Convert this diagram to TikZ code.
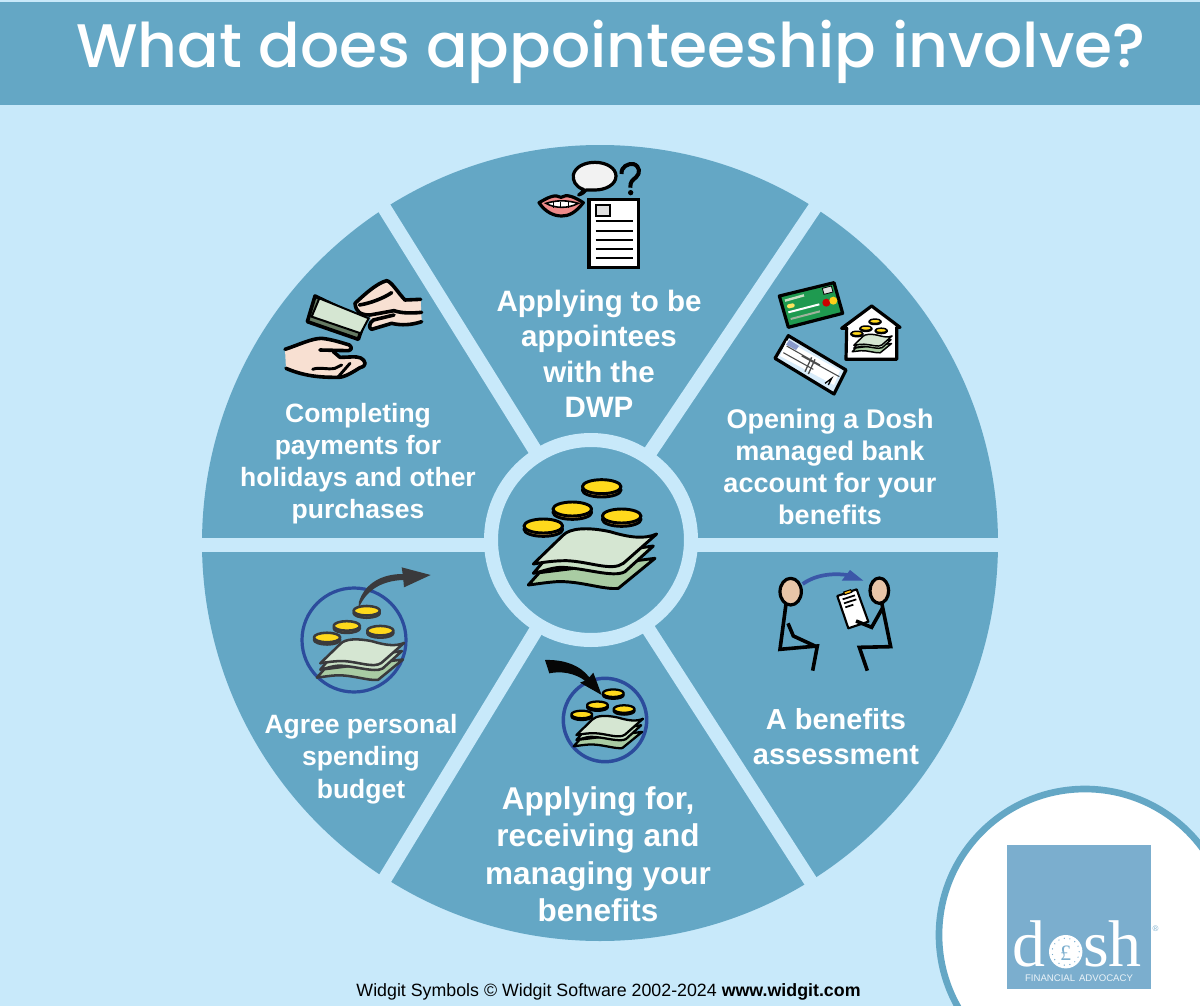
\documentclass[tikz,border=0pt]{standalone}
\usepackage{fontspec}
\setmainfont{Liberation Sans}
\newfontfamily\titlefont{Poppins Medium}
\newfontfamily\logofont{Liberation Serif}
\definecolor{wheelblue}{HTML}{64A7C5}
\definecolor{paleblue}{HTML}{C8E9FA}
\definecolor{logoblue}{HTML}{7BAECE}
\definecolor{coinyellow}{HTML}{FFD91C}
\definecolor{coinedge}{HTML}{C99A3E}
\definecolor{billa}{HTML}{D5E6D2}
\definecolor{billb}{HTML}{C8E0C4}
\definecolor{billc}{HTML}{A9CCA3}
\definecolor{skin}{HTML}{F8E0D2}
\definecolor{headskin}{HTML}{E8C5A8}
\definecolor{ringblue}{HTML}{2C4C9C}
\definecolor{arrowblue}{HTML}{3B57A8}
\definecolor{arrowdark}{HTML}{3A3A3C}
\definecolor{cardgreen}{HTML}{1F9A50}
\definecolor{chequeblue}{HTML}{D8ECFA}
\definecolor{lippink}{HTML}{EE8A8A}
\newcommand{\fs}[2]{\fontsize{\fpeval{#1*.75}pt}{\fpeval{#2*.75}pt}\selectfont}
\tikzset{
  spoke/.style={draw=paleblue,line width=10.5pt},
  label/.style={text=white,font=\bfseries,align=center,inner sep=0pt},
  ink/.style={draw=black,line width=2.4pt,line join=round,line cap=round},
  stick/.style={draw=black,line width=2.7pt,line join=miter,line cap=butt},
  pics/money/.style 2 args={code={
    \begin{scope}[shift={(-330,-330)},draw=#1,line width=#2,line join=round]
      \path[draw,fill=billc] (145,465) -- (178,428) -- (525,385) -- (415,475)
        .. controls (370,480) and (300,452) .. (230,455) .. controls (200,457) and (170,462) .. (145,465) -- cycle;
      \path[draw,fill=billb] (160,430) -- (190,395) -- (520,348) -- (435,425)
        .. controls (400,445) and (310,412) .. (240,412) .. controls (210,414) and (185,425) .. (160,430) -- cycle;
      \path[draw,fill=billa] (160,402) -- (250,315) .. controls (270,295) and (320,290) .. (390,305)
        .. controls (440,320) and (490,330) .. (530,312) -- (430,400)
        .. controls (395,425) and (330,395) .. (260,392) .. controls (220,392) and (190,397) .. (160,402) -- cycle;
      \foreach \cx/\cy in {365/175,277/242,425/263,190/293}{
        \path[draw,fill=coinedge] (\cx,\cy+5) ellipse [x radius=58,y radius=21];
        \path[draw,fill=coinyellow] (\cx,\cy-5) ellipse [x radius=58,y radius=21];
      }
    \end{scope}
  }},
}
\begin{document}
\begin{tikzpicture}[x=.75pt,y=-.75pt]
\clip (0,0) rectangle (1200,1006);
\useasboundingbox (0,0) rectangle (1200,1006);
\fill[paleblue] (0,0) rectangle (1200,1006);
\fill[wheelblue] (0,2) rectangle (1200,105);
\node[text=white,inner sep=0pt,font=\titlefont\fs{61.5}{66}] (title) at (611,52) {What does appointeeship involve?};

% wheel
\fill[wheelblue] (600,543) circle [radius=398];
\coordinate (hub) at (591,540);
\coordinate (sL) at (190,545);
\coordinate (sR) at (1010,545);
\coordinate (sUL) at (378,198);
\coordinate (sUR) at (820,200);
\coordinate (sLL) at (378,890);
\coordinate (sLR) at (815,888);
\draw[spoke] (sL) -- (sR);
\foreach \p in {sUL,sUR,sLL,sLR}{\draw[spoke] (hub) -- (\p);}
\draw[draw=paleblue,fill=wheelblue,line width=10.5pt] (hub) circle [radius=100];

% labels
\node[label,font=\bfseries\fs{29.5}{35.5}] (t1) at (599,354) {Applying to be\\appointees\\with the\\DWP};
\node[label,font=\bfseries\fs{27}{32}] (t2) at (830,467) {Opening a Dosh\\managed bank\\account for your\\benefits};
\node[label,font=\bfseries\fs{29}{35}] (t3) at (836,737) {A benefits\\assessment};
\node[label,font=\bfseries\fs{31.5}{37.5}] (t4) at (598,854) {Applying for,\\receiving and\\managing your\\benefits};
\node[label,font=\bfseries\fs{26.5}{32.5}] (t5) at (361,759) {Agree personal\\spending\\budget};
\node[label,font=\bfseries\fs{26.5}{32}] (t6) at (358,464) {Completing\\payments for\\holidays and other\\purchases};

% hub money
\pic[scale=1/3] at (590,540) {money={black}{2.2pt}};

% icon 1: mouth, speech, question, document
\begin{scope}[shift={(500,140)},scale=1/3]
  \path[ink,fill=lippink] (117,188) .. controls (140,175) and (165,160) .. (183,172) .. controls (200,160) and (225,172) .. (250,188)
     .. controls (225,220) and (205,228) .. (185,228) .. controls (160,228) and (135,215) .. (117,188) -- cycle;
  \path[draw=black,line width=1.2pt,fill=white] (138,190) .. controls (170,180) and (200,180) .. (235,190) .. controls (205,206) and (165,206) .. (138,190) -- cycle;
  \foreach \x in {160,182,205}{\draw[black,line width=.8pt] (\x,185) -- (\x,203);}
  \path[ink,fill=white!95!black] (250,148) .. controls (225,140) and (218,120) .. (220,105) .. controls (225,80) and (255,67) .. (285,67)
     .. controls (320,67) and (348,85) .. (348,108) .. controls (348,135) and (315,150) .. (285,150) .. controls (272,150) and (265,150) .. (258,150)
     .. controls (255,155) and (247,162) .. (236,165) .. controls (243,160) and (250,155) .. (250,148) -- cycle;
  \draw[ink,line width=3pt,line cap=butt] (365,102) .. controls (362,80) and (385,70) .. (400,72) .. controls (420,78) and (422,100) .. (408,112)
     .. controls (398,120) and (390,125) .. (391,143);
  \fill[black] (392,158) circle [radius=8];
  \path[draw=black,line width=2.7pt,fill=white] (267,178) rectangle (415,383);
  \path[draw=black,line width=1.6pt,fill=black!12] (287,196) rectangle (330,228);
  \foreach \yy in {242,272,300,328,355}{\draw[black,line width=1.6pt] (287,\yy) -- (400,\yy);}
\end{scope}

% icon 2: card, house, cheque
\begin{scope}[shift={(760,270)},scale=1/3]
  \path[ink,fill=cardgreen] (58,78) -- (222,38) -- (248,130) -- (85,172) -- cycle;
  \draw[line width=1.8pt,draw=billb] (75,92) -- (132,76);
  \path[fill=coinyellow!70!white,rounded corners=1pt] (80,104) -- (102,99) -- (105,111) -- (83,116) -- cycle;
  \path[fill=black!12,draw=black,line width=.6pt] (187,55) -- (214,48) -- (219,66) -- (192,73) -- cycle;
  \draw[line width=1.5pt,draw=white] (85,127) -- (178,103);
  \draw[line width=1.5pt,draw=billb!80!black] (92,147) -- (180,124);
  \fill[red!80!black] (199,98) circle [radius=12];
  \fill[coinyellow!90!orange] (220,92) circle [radius=12];
  \path[ink,fill=chequeblue] (85,197) -- (258,300) -- (222,372) -- (45,265) -- cycle;
  \fill[white] (80,212) -- (240,302) -- (222,345) -- (60,258) -- cycle;
  \fill[arrowblue!60!white] (88,210) -- (117,228) -- (108,240) -- (78,224) -- cycle;
  \draw[black!70,line width=.8pt] (80,228) -- (180,285) (70,248) -- (160,298) (125,258) -- (238,320);
  \draw[black!70,line width=1pt] (155,262) -- (135,305) (165,268) -- (145,312);
  \draw[black,line width=1pt] (195,340) -- (215,325) -- (205,345);
  \path[ink,fill=white] (245,175) -- (335,108) -- (420,172) -- (410,172) -- (410,268) -- (258,268) -- (260,175) -- cycle;
\end{scope}
\pic[scale=.31/3] at (871.4,337.8) {money={black}{1.1pt}};

% icon 3: people
\begin{scope}[shift={(760,560)},scale=1/3]
  \draw[stick] (78,132) -- (60,268) -- (172,258) -- (158,332);
  \draw[stick] (84,190) -- (100,228) -- (165,258);
  \path[ink,fill=headskin] (92,95) ellipse [x radius=32,y radius=40];
  \draw[stick] (365,128) -- (392,260) -- (298,262) -- (322,332);
  \path[draw=black,line width=1.6pt,fill=white,line join=round] (232,108) -- (290,88) -- (325,185) -- (265,205) -- cycle;
  \path[fill=coinyellow!70!orange,draw=black,line width=.8pt] (251,96) -- (272,89) -- (275,97) -- (254,104) -- cycle;
  \foreach \a/\b/\c/\d in {248/118/285/106,252/130/289/118,256/142/280/134}{\draw[black,line width=1.3pt] (\a,\b) -- (\c,\d);}
  \draw[stick] (367,145) -- (335,202) -- (288,183);
  \path[ink,fill=headskin] (358,92) ellipse [x radius=28,y radius=38];
  \draw[arrowblue,line width=2.8pt] (128,72) .. controls (170,42) and (225,38) .. (275,47);
  \fill[arrowblue] (270,30) -- (310,62) -- (245,62) -- cycle;
\end{scope}

% icon 4: hands
\begin{scope}[shift={(270,270)},scale=1/3]
  \path[draw=black,line width=2.7pt,fill=billc!60!black,line join=round] (135,78) -- (285,150) -- (265,208) -- (112,155) -- cycle;
  \path[draw=black,line width=1.5pt,fill=billa] (148,85) -- (296,145) -- (272,190) -- (125,140) -- cycle;
  \path[fill=skin] (452,88) -- (405,90) .. controls (385,70) and (365,35) .. (350,32) .. controls (320,40) and (285,72) .. (255,100)
     .. controls (258,125) and (270,135) .. (300,135) -- (302,150) .. controls (298,165) and (298,175) .. (305,178)
     -- (365,160) .. controls (380,165) and (420,165) .. (455,155) -- cycle;
  \draw[ink,line width=2.7pt] (452,88) -- (405,90) .. controls (385,70) and (365,35) .. (350,32) .. controls (320,40) and (285,72) .. (255,100)
     .. controls (258,125) and (270,135) .. (300,135) -- (372,122) .. controls (395,130) and (425,130) .. (455,127);
  \draw[ink,line width=2.7pt] (268,105) .. controls (300,100) and (340,85) .. (365,68);
  \draw[ink,line width=2.7pt] (372,135) -- (310,150) .. controls (296,160) and (296,175) .. (305,178) -- (365,160) .. controls (395,167) and (425,165) .. (455,155);
  \path[fill=skin] (45,238) .. controls (85,225) and (125,205) .. (155,205) .. controls (185,208) and (215,218) .. (238,225)
     .. controls (247,232) and (245,240) .. (235,242) -- (190,245) -- (210,262)
     .. controls (235,262) and (260,258) .. (272,264) .. controls (290,275) and (290,288) .. (270,293)
     .. controls (250,305) and (225,322) .. (205,322) .. controls (165,322) and (110,322) .. (48,295) -- cycle;
  \draw[ink,line width=2.7pt] (45,238) .. controls (85,225) and (125,205) .. (155,205) .. controls (185,208) and (215,218) .. (238,225)
     .. controls (247,232) and (245,240) .. (235,242) -- (150,240);
  \draw[ink,line width=2.7pt] (190,245) -- (210,262)
     .. controls (235,262) and (260,258) .. (272,264) .. controls (290,275) and (290,288) .. (270,293)
     .. controls (250,305) and (225,322) .. (205,322) .. controls (165,322) and (110,322) .. (48,295);
  \draw[ink,line width=2.2pt] (128,298) .. controls (150,290) and (170,300) .. (195,295) -- (215,285) (205,320) -- (240,280);
\end{scope}

% icon 5: money out
\draw[ringblue,line width=2.4pt] (354,640) circle [radius=52];
\begin{scope}[shift={(290,560)},scale=1/3]
  \fill[arrowdark] (205,148) .. controls (225,95) and (270,62) .. (340,60) -- (342,82) -- (422,45) -- (335,22) -- (338,42)
     .. controls (275,42) and (225,70) .. (207,125) -- cycle;
\end{scope}
\pic[scale=.68/3] at (358.8,647) {money={arrowdark}{1.9pt}};

% icon 6: money in
\draw[ringblue,line width=2.6pt] (605,720) circle [radius=41.7];
\pic[scale=.54/3] at (607,722) {money={black}{1.7pt}};
\begin{scope}[shift={(530,650)},scale=1/3]
  \fill[black!90!arrowdark] (45,30) .. controls (100,28) and (150,45) .. (178,82) -- (190,68) -- (215,135) -- (150,98) -- (165,92)
     .. controls (135,70) and (95,62) .. (58,70) -- cycle;
\end{scope}

% logo
\draw[wheelblue,fill=white,line width=5pt] (1085,935) circle [radius=146];
\fill[logoblue] (1006.7,845) rectangle (1151,989.3);
\node[anchor=base west,inner sep=0pt,text=white,font=\logofont\fs{66}{66}] (logod) at (1012,966.7) {d};
\node[anchor=base west,inner sep=0pt,text=white,font=\logofont\fs{66}{66}] (logosh) at (1083,966.7) {sh};
\fill[white] (1065.7,951.7) circle [radius=16.7];
\foreach \a in {0,24,...,336}{\fill[logoblue] (1065.7,951.7) ++(\a:13.5) circle [radius=.7];}
\node[inner sep=0pt,text=logoblue,font=\logofont\fs{22}{22}] (logopound) at (1065.7,953) {£};
\node[inner sep=0pt,text=white!85!logoblue,font=\fs{9.6}{10}] (logosub) at (1079,978.5) {FINANCIAL\hspace{.4em}ADVOCACY};
\node[inner sep=0pt,text=logoblue,font=\fs{8}{8}] (logoreg) at (1155.5,929) {®};

% footer
\node[inner sep=0pt,text=black,font=\fs{17.8}{18}] (footer) at (608.5,992) {Widgit Symbols © Widgit Software 2002-2024 \textbf{www.widgit.com}};
\end{tikzpicture}
\end{document}
